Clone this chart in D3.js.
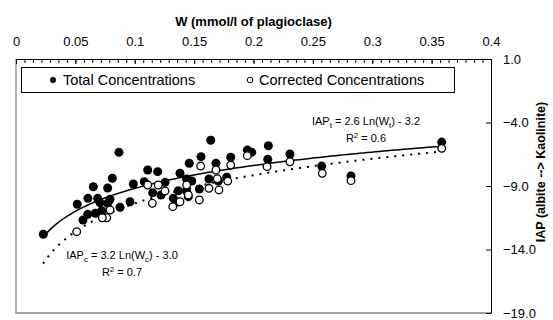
<!DOCTYPE html>
<html>
<head>
<meta charset="utf-8">
<script src="https://cdn.jsdelivr.net/npm/d3@7"></script>
<style>
  body { margin: 0; background: #fff; }
  text { font-family: "Liberation Sans", Arial, sans-serif; fill: #000; }
</style>
</head>
<body>
<svg id="chart" width="553" height="320"></svg>
<script>
// W (mmol/l) and IAP for total concentrations (filled dots)
const totalW = [0.023, 0.0867, 0.0651, 0.0772, 0.0811, 0.0516, 0.0606, 0.0688, 0.0707, 0.0792,
  0.0772, 0.0564, 0.0604, 0.0668, 0.0722, 0.0876, 0.096, 0.0988, 0.108, 0.1109,
  0.1193, 0.1151, 0.164, 0.1558, 0.1459, 0.1381, 0.1684, 0.1808, 0.1948, 0.1985,
  0.2125, 0.212, 0.1255, 0.1437, 0.148, 0.1625, 0.1704, 0.1774, 0.1544, 0.1367,
  0.1437, 0.1221, 0.1325, 0.1353, 0.1451, 0.2307, 0.2574, 0.2821, 0.3585];
const totalIAP = [-12.80, -6.35, -9.06, -9.16, -8.39, -10.44, -9.97, -9.97, -10.31, -10.05,
  -10.36, -11.68, -11.23, -11.15, -10.94, -10.68, -10.24, -8.84, -8.66, -7.74,
  -7.87, -9.53, -5.40, -6.69, -7.21, -8.0, -7.21, -6.74, -6.17, -6.35,
  -5.83, -6.90, -8.71, -8.45, -8.61, -8.45, -8.61, -8.31, -9.24, -9.37,
  -9.39, -9.71, -9.97, -10.28, -9.84, -6.48, -7.43, -8.21, -5.54];

// corrected concentrations (open dots)
const corrW = [0.0511, 0.0792, 0.0764, 0.0727, 0.1148, 0.1109, 0.1198, 0.1555, 0.1684, 0.1808,
  0.1948, 0.2114, 0.1695, 0.1783, 0.1625, 0.1709, 0.1255, 0.1437, 0.1544, 0.132,
  0.1381, 0.1451, 0.2307, 0.2579, 0.2821, 0.3585];
const corrIAP = [-12.60, -10.89, -11.50, -11.50, -10.36, -8.92, -8.92, -7.43, -7.74, -7.35,
  -6.61, -7.48, -8.43, -8.61, -9.18, -9.31, -9.39, -8.92, -10.10, -10.63,
  -10.24, -9.71, -7.09, -8.0, -8.58, -6.03];

// log trend lines: IAP = a Ln(W) + b, drawn over [wFrom, wTo]
const fitTotal = [2.6, -3.2, 0.023, 0.36];
const fitCorr = [3.2, -3.0, 0.0227, 0.36];

const xTicks = [0, 0.05, 0.1, 0.15, 0.2, 0.25, 0.3, 0.35, 0.4];
const yTicks = [1, -4, -9, -14, -19];

const svg = d3.select("#chart");
const m = { left: 16, right: 491, top: 59, bottom: 313 };

const x = d3.scaleLinear().domain([0, 0.4]).range([m.left, m.right]);
const y = d3.scaleLinear().domain([-19, 1]).range([m.bottom, m.top]);

// plot area border (grey left + bottom)
svg.append("line").attr("x1", m.left).attr("x2", m.left).attr("y1", m.top).attr("y2", m.bottom + 1)
  .attr("stroke", "#b0b0b0").attr("stroke-width", 2);
svg.append("line").attr("x1", m.left).attr("x2", m.right).attr("y1", m.bottom).attr("y2", m.bottom)
  .attr("stroke", "#a0a0a0").attr("stroke-width", 2);

// top axis, ticks pointing down into the plot
const minor = d3.range(0, 0.4001, 0.05 / 7);
svg.append("g")
  .attr("transform", `translate(0,${m.top})`)
  .call(d3.axisTop(x).tickValues(minor).tickSizeInner(-4).tickSizeOuter(0).tickFormat(""))
  .call(g => g.select(".domain").remove());
svg.append("g")
  .attr("transform", `translate(0,${m.top})`)
  .call(d3.axisTop(x).tickValues(xTicks).tickSizeInner(-5).tickSizeOuter(0).tickPadding(13)
    .tickFormat(d => d === 0 ? "0" : d3.format("")(+d.toFixed(2))))
  .call(g => g.selectAll("text").attr("font-size", 13).attr("fill", "#000"))
  .call(g => g.selectAll("line, path").attr("stroke", "#000"));

svg.append("text").attr("x", (m.left + m.right) / 2).attr("y", 26)
  .attr("text-anchor", "middle").attr("font-size", 13).attr("font-weight", "bold")
  .text("W (mmol/l of plagioclase)");

// right axis
svg.append("g")
  .attr("transform", `translate(${m.right},0)`)
  .call(d3.axisRight(y).tickValues(yTicks).tickSizeInner(-5).tickSizeOuter(0).tickPadding(12)
    .tickFormat(d3.format(".1f")))
  .call(g => g.selectAll("text").attr("font-size", 13).attr("fill", "#000"))
  .call(g => g.selectAll("line, path").attr("stroke", "#000"));

svg.append("text")
  .attr("transform", `translate(545,172) rotate(-90)`)
  .attr("text-anchor", "middle").attr("font-size", 12.5).attr("font-weight", "bold")
  .text("IAP (albite --> Kaolinite)");

// legend
const lg = svg.append("g");
lg.append("rect").attr("x", 21.5).attr("y", 67.5).attr("width", 433).attr("height", 25)
  .attr("fill", "#fff").attr("stroke", "#000");
lg.append("circle").attr("cx", 53).attr("cy", 80).attr("r", 3).attr("fill", "#000");
lg.append("text").attr("x", 63).attr("y", 85).attr("font-size", 14.5).text("Total Concentrations");
lg.append("circle").attr("cx", 250).attr("cy", 80).attr("r", 2.8)
  .attr("fill", "#fff").attr("stroke", "#000").attr("stroke-width", 1);
lg.append("text").attr("x", 259).attr("y", 85).attr("font-size", 14.5).text("Corrected Concentrations");

// trend lines
function trend(f) {
  const ws = d3.range(0, 101).map(i => f[2] + (f[3] - f[2]) * i / 100);
  return d3.line().x(w => x(w)).y(w => y(f[0] * Math.log(w) + f[1]))(ws);
}
svg.append("path").attr("d", trend(fitCorr)).attr("fill", "none")
  .attr("stroke", "#000").attr("stroke-width", 2).attr("stroke-dasharray", "2,6");
svg.append("path").attr("d", trend(fitTotal)).attr("fill", "none")
  .attr("stroke", "#000").attr("stroke-width", 1.5);

// points
svg.append("g").selectAll("circle").data(totalW).join("circle")
  .attr("cx", d => x(d)).attr("cy", (d, i) => y(totalIAP[i])).attr("r", 4.5).attr("fill", "#000");
svg.append("g").selectAll("circle").data(corrW).join("circle")
  .attr("cx", d => x(d)).attr("cy", (d, i) => y(corrIAP[i])).attr("r", 3.8)
  .attr("fill", "#fff").attr("stroke", "#000").attr("stroke-width", 1.3);

// equations
function eq(cx, by, sub, a, b, r2) {
  const t = svg.append("text").attr("x", cx).attr("y", by).attr("text-anchor", "middle")
    .attr("font-size", 11).attr("fill", "#222");
  t.append("tspan").text("IAP");
  t.append("tspan").attr("font-size", 8).attr("dy", 3).text(sub);
  t.append("tspan").attr("dy", -3).text(` = ${a} Ln(W`);
  t.append("tspan").attr("font-size", 8).attr("dy", 3).text(sub);
  t.append("tspan").attr("dy", -3).text(`) - ${b}`);
  const r = svg.append("text").attr("x", cx).attr("y", by + 17).attr("text-anchor", "middle")
    .attr("font-size", 11).attr("fill", "#222");
  r.append("tspan").text("R");
  r.append("tspan").attr("font-size", 8).attr("dy", -4).text("2");
  r.append("tspan").attr("dy", 4).text(` = ${r2}`);
}
eq(366, 125, "t", "2.6", "3.2", "0.6");
eq(122, 259, "c", "3.2", "3.0", "0.7");
</script>
</body>
</html>
